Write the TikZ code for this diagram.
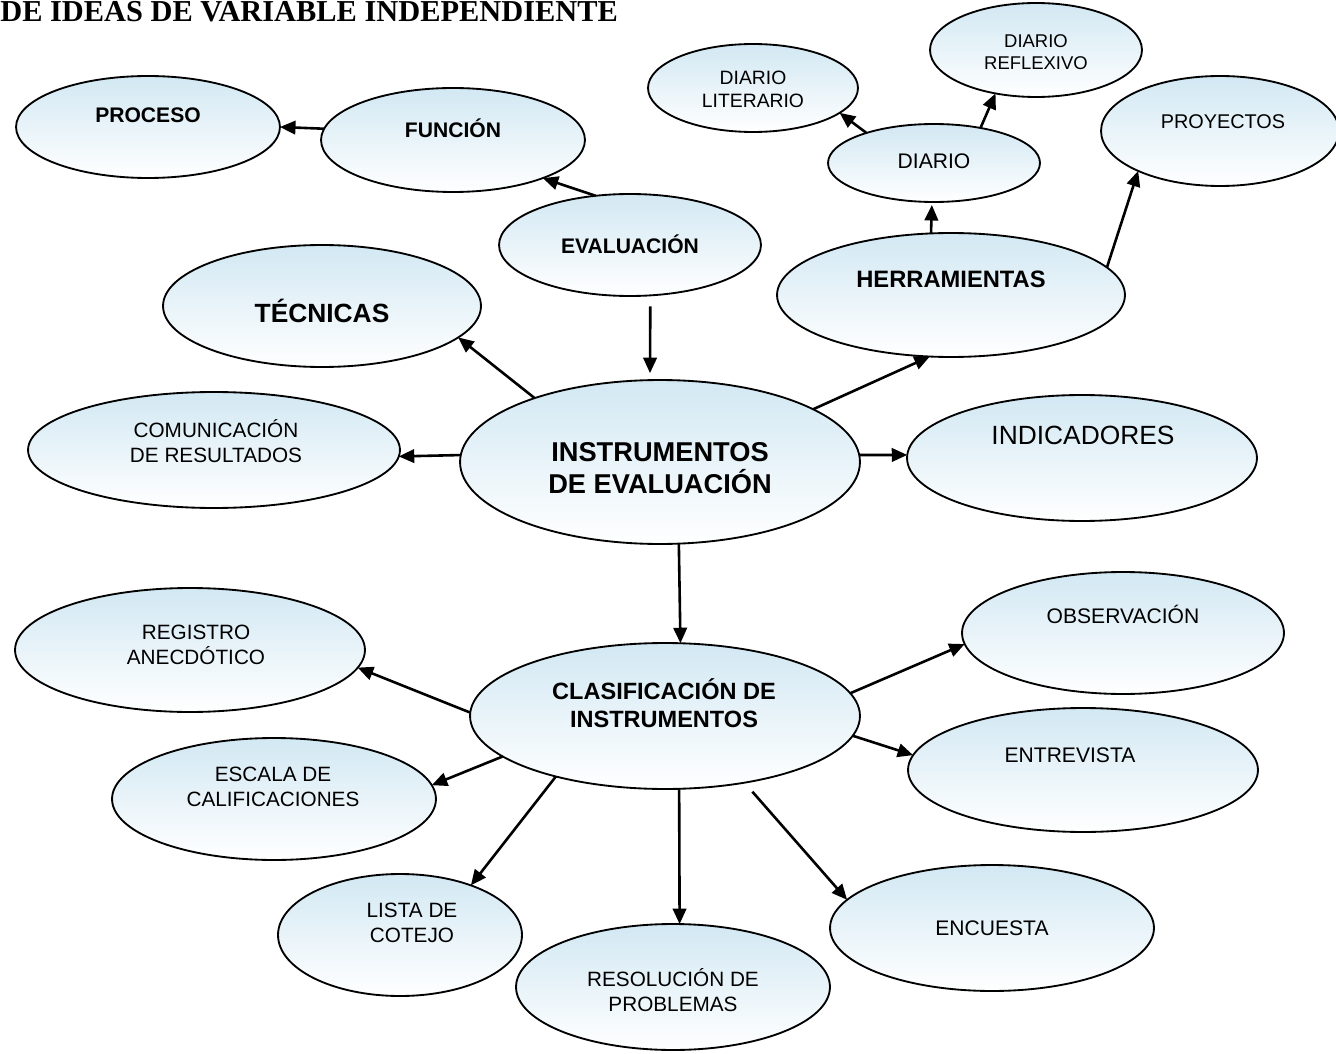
\documentclass[tikz,border=0pt]{standalone}
\usepackage{fontspec}
\setmainfont{Liberation Sans}
\newfontfamily\titlefont{Liberation Serif}
\usetikzlibrary{shapes.geometric,arrows.meta}
\definecolor{bubtop}{RGB}{210,232,243}
\tikzset{
  bub/.style={ellipse, draw=black, line width=0.037cm, top color=bubtop, bottom color=white, inner sep=0pt, outer sep=0pt},
  txt/.style={align=center, inner sep=0pt, font=\fontsize{#1}{\dimexpr #1pt*6/5\relax}\selectfont},
  btxt/.style={align=center, inner sep=0pt, font=\fontsize{#1}{\dimexpr #1pt*6/5\relax}\selectfont\bfseries},
  conn/.style={line width=0.052cm, -{Triangle[length=0.31cm,width=0.27cm]}},
}
\begin{document}
\begin{tikzpicture}[x=0.02cm,y=-0.02cm]
\useasboundingbox (0,0) rectangle (1336,1054);
% title
\node[anchor=base west, inner sep=0pt, font=\titlefont\fontsize{17.3}{19}\selectfont\bfseries] (title) at (0,22) {DE IDEAS DE VARIABLE INDEPENDIENTE};
% ellipses
\node[bub, minimum width=5.28cm, minimum height=2.04cm] (proceso) at (148,127) {};
\node[bub, minimum width=5.28cm, minimum height=2.08cm] (funcion) at (453,140) {};
\node[bub, minimum width=5.24cm, minimum height=2.04cm] (evaluacion) at (630,245) {};
\node[bub, minimum width=6.36cm, minimum height=2.44cm] (tecnicas) at (322,306) {};
\node[bub, minimum width=4.20cm, minimum height=1.76cm] (dlit) at (753,88) {};
\node[bub, minimum width=4.24cm, minimum height=1.88cm] (drefl) at (1036,50) {};
\node[bub, minimum width=4.24cm, minimum height=1.56cm] (diario) at (934,163) {};
\node[bub, minimum width=4.76cm, minimum height=2.20cm] (proyectos) at (1220,131) {};
\node[bub, minimum width=6.96cm, minimum height=2.48cm] (herr) at (951,295) {};
\node[bub, minimum width=8.00cm, minimum height=3.28cm] (instr) at (660,462) {};
\node[bub, minimum width=7.44cm, minimum height=2.32cm] (comun) at (214,450) {};
\node[bub, minimum width=7.00cm, minimum height=2.52cm] (indic) at (1082,458) {};
\node[bub, minimum width=7.80cm, minimum height=2.92cm] (clas) at (665,716) {};
\node[bub, minimum width=7.00cm, minimum height=2.48cm] (reg) at (190,650) {};
\node[bub, minimum width=6.44cm, minimum height=2.44cm] (obs) at (1123,633) {};
\node[bub, minimum width=7.00cm, minimum height=2.48cm] (entr) at (1083,770) {};
\node[bub, minimum width=6.48cm, minimum height=2.44cm] (escala) at (274,799) {};
\node[bub, minimum width=4.88cm, minimum height=2.44cm] (lista) at (400,935) {};
\node[bub, minimum width=6.28cm, minimum height=2.52cm] (resol) at (673,987) {};
\node[bub, minimum width=6.48cm, minimum height=2.52cm] (encu) at (992,928) {};
% texts
\node[btxt=12] (proceso-t) at (148,115) {PROCESO};
\node[btxt=12] (funcion-t) at (453,128) {FUNCIÓN};
\node[btxt=12] (evaluacion-t) at (630,244) {EVALUACIÓN};
\node[btxt=15] (tecnicas-t) at (322,311) {TÉCNICAS};
\node[txt=11] (dlit-t) at (753,89.5) {DIARIO\\LITERARIO};
\node[txt=10.5] (drefl-t) at (1036,52) {DIARIO\\REFLEXIVO};
\node[txt=12] (diario-t) at (934,161) {DIARIO};
\node[txt=11.3] (proyectos-t) at (1223,122) {PROYECTOS};
\node[btxt=13.5] (herr-t) at (951,279) {HERRAMIENTAS};
\node[btxt=15.5] (instr-t) at (660,468) {INSTRUMENTOS\\DE EVALUACIÓN};
\node[txt=11.8] (comun-t) at (216,441) {COMUNICACIÓN\\DE RESULTADOS};
\node[txt=15] (indic-t) at (1083,435) {INDICADORES};
\node[btxt=13.4] (clas-t) at (664,703) {CLASIFICACIÓN DE\\INSTRUMENTOS};
\node[txt=11.8] (reg-t) at (196,645) {REGISTRO\\ANECDÓTICO};
\node[txt=12] (obs-t) at (1123,614) {OBSERVACIÓN};
\node[txt=12] (entr-t) at (1070,755) {ENTREVISTA};
\node[txt=11.8] (escala-t) at (273,787) {ESCALA DE\\CALIFICACIONES};
\node[txt=11.8] (lista-t) at (412,923) {LISTA DE\\COTEJO};
\node[txt=11.8] (resol-t) at (673,990) {RESOLUCIÓN DE\\PROBLEMAS};
\node[txt=12] (encu-t) at (992,928) {ENCUESTA};
% connectors
\draw[conn] (funcion.175) -- (proceso.0);
\draw[conn] (evaluacion.125) -- (funcion.-23);
\draw[conn, shorten <=0.22cm, shorten >=0.14cm] (evaluacion.-68) -- (instr.97);
\draw[conn] (instr.153) -- (tecnicas.-13);
\draw[conn] (instr.178) -- (comun.-2);
\draw[conn] (instr.2) -- (indic.179);
\draw[conn] (instr.19) -- (herr.-109);
\draw[conn, shorten >=0.06cm] (herr.108) -- (diario.-93);
\draw[conn] (herr.10) -- (proyectos.-154);
\draw[conn] (diario.156) -- (dlit.-16);
\draw[conn] (diario.37) -- (drefl.-133);
\draw[conn] (instr.-77) -- (clas.78);
\draw[conn] (clas.179) -- (reg.-6);
\draw[conn] (clas.7) -- (obs.-176);
\draw[conn] (clas.-6) -- (entr.175);
\draw[conn] (clas.-166) -- (escala.5);
\draw[conn] (clas.-151) -- (lista.35);
\draw[conn] (clas.-79) -- (resol.84);
\draw[conn, shorten <=0.24cm] (clas.-40) -- (encu.169);
\end{tikzpicture}
\end{document}
